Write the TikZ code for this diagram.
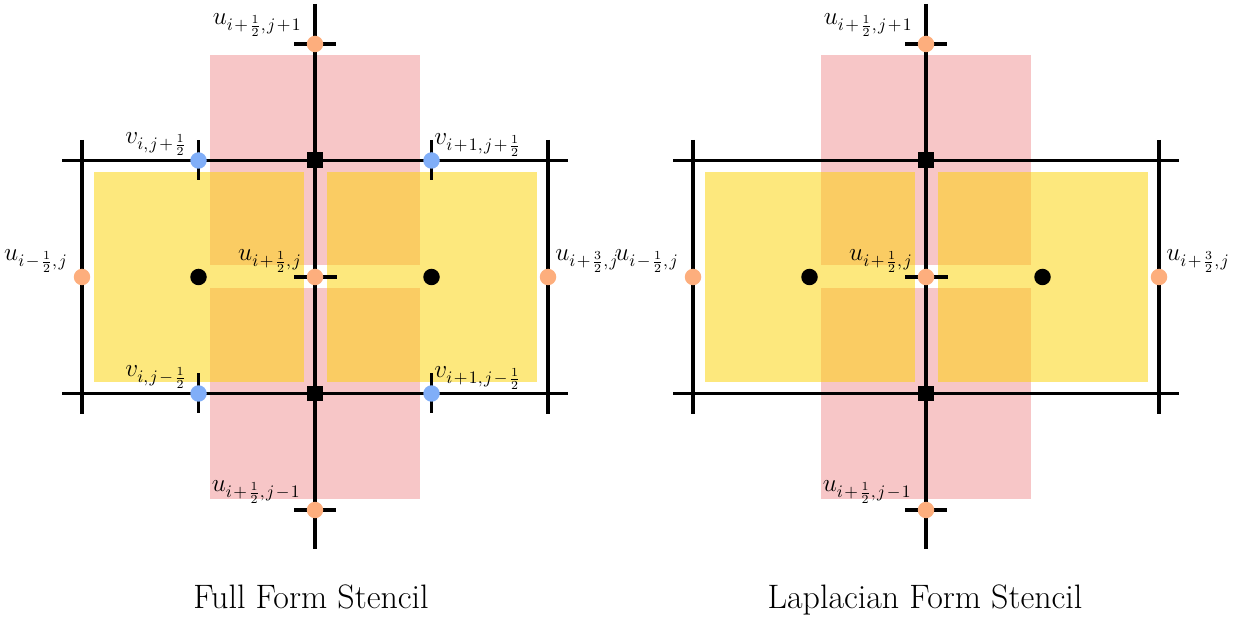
\documentclass[tikz,border=0pt]{standalone}
\usepackage{amsmath}
\definecolor{pinkf}{RGB}{247,198,199}
\definecolor{yelf}{RGB}{253,232,125}
\definecolor{orf}{RGB}{250,204,99}
\definecolor{ucol}{RGB}{253,174,125}
\definecolor{vcol}{RGB}{128,174,248}
\newcommand{\pl}{\mskip1.5mu{+}\mskip1.5mu}
\newcommand{\mn}{\mskip1.5mu{-}\mskip1.5mu}
\newcommand{\cm}{,\mskip1.5mu}
\tikzset{
  gridline/.style={line width=2.2pt,black},
  udot/.style={circle,fill=ucol,inner sep=0pt,minimum size=0.33cm},
  vdot/.style={circle,fill=vcol,inner sep=0pt,minimum size=0.33cm},
  cdot/.style={circle,fill=black,inner sep=0pt,minimum size=0.33cm},
  corner/.style={rectangle,fill=black,inner sep=0pt,minimum size=0.32cm},
  lab/.style={inner sep=0pt,font=\fontsize{13.6}{16}\selectfont},
  ttl/.style={inner sep=0pt,anchor=base,font=\fontsize{19.3}{22}\selectfont},
  stencil/.pic={
    % translucent cells
    \fill[pinkf] (-105,-221.5) rectangle (105,-11.5);
    \fill[pinkf] (-105,11.5) rectangle (105,221.5);
    \fill[yelf] (-221.5,-105) rectangle (-11.5,105);
    \fill[yelf] (11.5,-105) rectangle (221.5,105);
    \fill[orf] (-105,-105) rectangle (-11.5,-11.5);
    \fill[orf] (11.5,-105) rectangle (105,-11.5);
    \fill[orf] (-105,11.5) rectangle (-11.5,105);
    \fill[orf] (11.5,11.5) rectangle (105,105);
    % grid
    \coordinate (-top) at (0,-273);
    \coordinate (-bot) at (0,272);
    \coordinate (-hl1) at (-253,-116.5);
    \coordinate (-hr1) at (253,-116.5);
    \coordinate (-hl2) at (-253,116.5);
    \coordinate (-hr2) at (253,116.5);
    \coordinate (-vl1) at (-233,-137);
    \coordinate (-vl2) at (-233,137);
    \coordinate (-vr1) at (233,-137);
    \coordinate (-vr2) at (233,137);
    \draw[gridline] (-top) -- (-bot);
    \draw[gridline] (-hl1) -- (-hr1);
    \draw[gridline] (-hl2) -- (-hr2);
    \draw[gridline] (-vl1) -- (-vl2);
    \draw[gridline] (-vr1) -- (-vr2);
    % u ticks
    \coordinate (-t1a) at (-21,-233); \coordinate (-t1b) at (21,-233);
    \coordinate (-t2a) at (-21,233);  \coordinate (-t2b) at (21,233);
    \coordinate (-t3a) at (-21,0);    \coordinate (-t3b) at (22,0);
    \draw[gridline] (-t1a) -- (-t1b);
    \draw[gridline] (-t2a) -- (-t2b);
    \draw[gridline] (-t3a) -- (-t3b);
    % points
    \node[corner] (-sqT) at (0,-116.5) {};
    \node[corner] (-sqB) at (0,116.5) {};
    \node[cdot] (-cL) at (-116.5,0) {};
    \node[cdot] (-cR) at (116.5,0) {};
    \node[udot] (-uL) at (-233,0) {};
    \node[udot] (-uR) at (233,0) {};
    \node[udot] (-uC) at (0,0) {};
    \node[udot] (-uT) at (0,-233) {};
    \node[udot] (-uB) at (0,233) {};
    % labels
    \node[lab,anchor=east] (-luT) at (-13,-252) {$u_{i\pl\frac{1}{2}\cm j\pl 1}$};
    \node[lab,anchor=east] (-luB) at (-14,215) {$u_{i\pl\frac{1}{2}\cm j\mn 1}$};
    \node[lab,anchor=east] (-luL) at (-247,-16) {$u_{i\mn\frac{1}{2}\cm j}$};
    \node[lab,anchor=east] (-luC) at (-13,-16) {$u_{i\pl\frac{1}{2}\cm j}$};
    \node[lab,anchor=west] (-luR) at (240,-16) {$u_{i\pl\frac{3}{2}\cm j}$};
  }
}
\begin{document}
\begin{tikzpicture}[x=0.02cm,y=-0.02cm]
\useasboundingbox (0,0) rectangle (1241,621);
\pic (L) at (315,277) {stencil};
\pic (R) at (926,277) {stencil};
% v ticks and points (full form only)
\begin{scope}[shift={(315,277)}]
  \coordinate (vt1a) at (-116.5,-136.5); \coordinate (vt1b) at (-116.5,-96.5);
  \coordinate (vt2a) at (116.5,-136.5);  \coordinate (vt2b) at (116.5,-96.5);
  \coordinate (vt3a) at (-116.5,96.5);   \coordinate (vt3b) at (-116.5,136.5);
  \coordinate (vt4a) at (116.5,96.5);    \coordinate (vt4b) at (116.5,136.5);
  \draw[gridline] (vt1a) -- (vt1b);
  \draw[gridline] (vt2a) -- (vt2b);
  \draw[gridline] (vt3a) -- (vt3b);
  \draw[gridline] (vt4a) -- (vt4b);
  \node[vdot] (vTL) at (-116.5,-116.5) {};
  \node[vdot] (vTR) at (116.5,-116.5) {};
  \node[vdot] (vBL) at (-116.5,116.5) {};
  \node[vdot] (vBR) at (116.5,116.5) {};
  \node[lab,anchor=east] (lvTL) at (-128,-133) {$v_{i\cm j\pl\frac{1}{2}}$};
  \node[lab,anchor=east] (lvBL) at (-128,100) {$v_{i\cm j\mn\frac{1}{2}}$};
  \node[lab,anchor=west] (lvTR) at (119,-132) {$v_{i\pl 1\cm j\pl\frac{1}{2}}$};
  \node[lab,anchor=west] (lvBR) at (119,101) {$v_{i\pl 1\cm j\mn\frac{1}{2}}$};
\end{scope}
\node[ttl] (t1) at (311,608) {Full Form Stencil};
\node[ttl] (t2) at (925,608) {Laplacian Form Stencil};
\end{tikzpicture}
\end{document}
